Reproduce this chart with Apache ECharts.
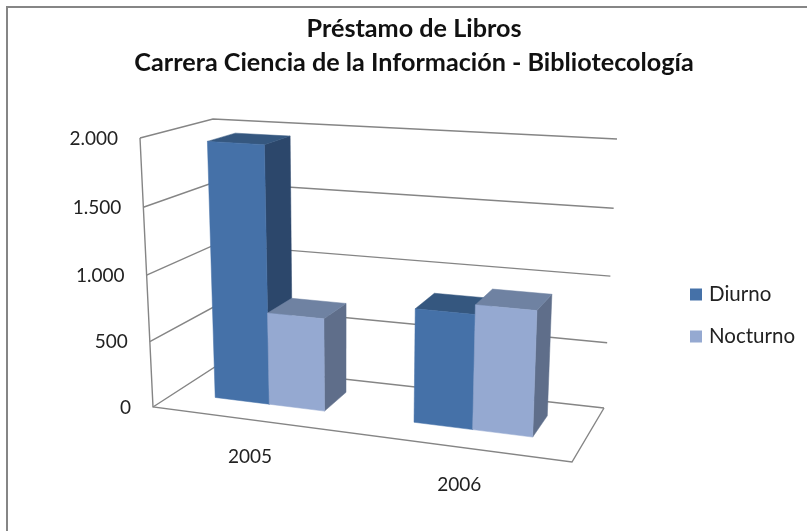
<!DOCTYPE html>
<html>
<head>
<meta charset="utf-8">
<style>
html,body{margin:0;padding:0;background:#fff;}
#main{width:807px;height:531px;}
</style>
<script src="https://cdn.jsdelivr.net/npm/echarts@6/dist/echarts.min.js"></script>
</head>
<body>
<div id="main"></div>
<script>
var categories = ['2005', '2006'];
var diurno = [1945, 840];
var nocturno = [700, 910];
var yTicks = [0, 500, 1000, 1500, 2000];
var yLabels = ['0', '500', '1.000', '1.500', '2.000'];

var FONT = 'Lato, "Open Sans", sans-serif';

// esquinas de la caja 3D en pantalla (f=frente, b=fondo, l/r, d=abajo, t=arriba)
var box = {
	fld: [153, 407], frd: [572, 462], bld: [218, 365], brd: [604, 408],
	flt: [140, 138], frt: [584, 165], blt: [213, 119], brt: [617, 139]
};

function lerp(a, b, t) {
	return [a[0] + (b[0] - a[0]) * t, a[1] + (b[1] - a[1]) * t];
}
// perspectiva: el reparto no es lineal
function warp(t, r) {
	return t / (t + (1 - t) * r);
}
// u: categorias, v: valor, w: profundidad (todos 0..1)
function project(u, v, w) {
	var uu = warp(u, 1.085);
	var vv = warp(v, 1.04);
	var front = lerp(lerp(box.fld, box.frd, uu), lerp(box.flt, box.frt, uu), vv);
	var back = lerp(lerp(box.bld, box.brd, uu), lerp(box.blt, box.brt, uu), vv);
	return lerp(front, back, w);
}

var BAR_W = 0.28;      // ancho de cada barra, en fracciones de categoria
var BAR_SHIFT = -0.005;
var DEPTH_A = 0.345, DEPTH_B = 0.75;

function face(pts, color) {
	return {
		type: 'polygon',
		shape: { points: pts },
		style: { fill: color, stroke: color, lineWidth: 0.5 }
	};
}

function barRenderer(slot, colors) {
	return function (params, api) {
		var cs = params.coordSys;
		var pos = api.coord([api.value(0), api.value(1)]);
		var band = api.size([1, 0])[0];
		var u0 = (pos[0] + slot * BAR_W * band - cs.x) / cs.width + BAR_SHIFT;
		var u1 = u0 + BAR_W * band / cs.width;
		var v = (cs.y + cs.height - pos[1]) / cs.height;
		var a = DEPTH_A, b = DEPTH_B;
		return {
			type: 'group',
			children: [
				face([project(u1, 0, a), project(u1, 0, b), project(u1, v, b), project(u1, v, a)], colors.side),
				face([project(u0, v, a), project(u1, v, a), project(u1, v, b), project(u0, v, b)], colors.top),
				face([project(u0, 0, a), project(u1, 0, a), project(u1, v, a), project(u0, v, a)], colors.front)
			]
		};
	};
}

function wallLine(pts) {
	return {
		type: 'polyline',
		shape: { points: pts },
		style: { fill: 'none', stroke: '#858585', lineWidth: 1.4 }
	};
}

function gridRenderer(params, api) {
	var cs = params.coordSys;
	var v = (cs.y + cs.height - api.coord([0, api.value(0)])[1]) / cs.height;
	var children = [wallLine([project(0, v, 0), project(0, v, 1), project(1, v, 1)])];
	if (params.dataIndex === 0) {
		children.push(wallLine([project(1, 0, 1), project(1, 0, 0), project(0, 0, 0), project(0, 1, 0)]));
	}
	var p = project(0, v, 0);
	children.push({
		type: 'text',
		style: {
			text: yLabels[params.dataIndex],
			x: p[0] - 22, y: p[1] + 0.5,
			align: 'right', verticalAlign: 'middle',
			fill: '#222', font: '19px ' + FONT
		}
	});
	return { type: 'group', children: children };
}

function catLabelRenderer(params, api) {
	var cs = params.coordSys;
	var pos = api.coord([api.value(0), 0]);
	var p = project((pos[0] - cs.x) / cs.width, 0, 0);
	return {
		type: 'text',
		style: {
			text: categories[api.value(0)],
			x: p[0] - 1.5, y: p[1] + 37,
			align: 'center', verticalAlign: 'middle',
			fill: '#222', font: '19px ' + FONT
		}
	};
}

var chart = echarts.init(document.getElementById('main'), null, { renderer: 'canvas' });

chart.setOption({
	animation: false,
	backgroundColor: '#fff',
	title: {
		text: 'Préstamo de Libros\nCarrera Ciencia de la Información - Bibliotecología',
		left: 409, top: 7, textAlign: 'center',
		textStyle: { fontFamily: FONT, fontSize: 25.2, fontWeight: 'bold', color: '#111', lineHeight: 34 }
	},
	legend: {
		data: ['Diurno', 'Nocturno'],
		orient: 'vertical',
		left: 685, top: 279,
		itemWidth: 12, itemHeight: 12, itemGap: 21,
		icon: 'rect',
		textStyle: { fontFamily: FONT, fontSize: 20.5, color: '#222', padding: [0, 0, 0, 2] }
	},
	graphic: [
		{ type: 'polyline', silent: true, shape: { points: [[7, 531], [7, 7], [807, 7]] }, style: { fill: 'none', stroke: '#868686', lineWidth: 2 } }
	],
	grid: { left: 100, top: 100, width: 400, height: 300 },
	xAxis: { type: 'category', data: categories, show: false },
	yAxis: { type: 'value', min: 0, max: 2000, interval: 500, show: false },
	series: [
		{
			type: 'custom', name: 'grid', renderItem: gridRenderer, silent: true, z: 1,
			encode: { y: 0 },
			data: yTicks.map(function (t) { return [t]; })
		},
		{
			type: 'custom', name: 'cat', renderItem: catLabelRenderer, silent: true, z: 1,
			encode: { x: 0 },
			data: categories.map(function (c, i) { return [i]; })
		},
		{
			type: 'custom', name: 'Diurno', z: 2,
			renderItem: barRenderer(-1, { front: '#4571a8', top: '#35577f', side: '#2c476b' }),
			itemStyle: { color: '#4571a8' },
			encode: { x: 0, y: 1 },
			data: diurno.map(function (v, i) { return [i, v]; })
		},
		{
			type: 'custom', name: 'Nocturno', z: 3,
			renderItem: barRenderer(0, { front: '#95a9d1', top: '#6f82a2', side: '#5f6e8a' }),
			itemStyle: { color: '#95a9d1' },
			encode: { x: 0, y: 1 },
			data: nocturno.map(function (v, i) { return [i, v]; })
		}
	]
});
</script>
</body>
</html>
